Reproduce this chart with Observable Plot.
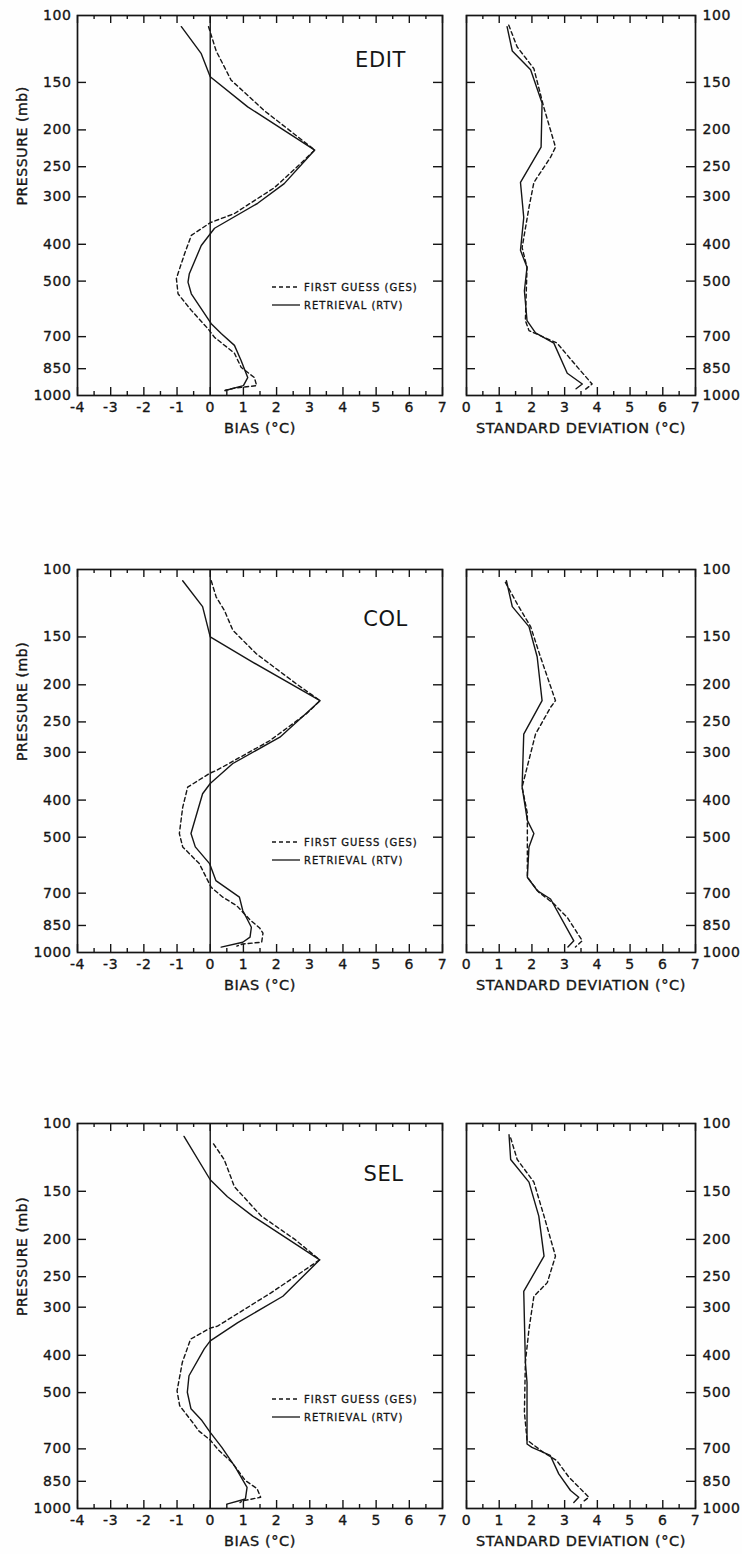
<!DOCTYPE html>
<html>
<head>
<meta charset="utf-8">
<script src="https://cdn.jsdelivr.net/npm/d3@7"></script>
<script src="https://cdn.jsdelivr.net/npm/@observablehq/plot@0.6"></script>
<style>
  html, body { margin: 0; padding: 0; background: #fefefe; }
  #fig { position: relative; width: 742px; height: 1554px; overflow: hidden; font-family: "DejaVu Sans", sans-serif; }
  #fig svg { position: absolute; }
  #fig svg text { letter-spacing: 0.6px; }
</style>
</head>
<body>
<div id="fig"></div>
<script>
// Pressure levels (mb) labelled on the axes; inner levels also get frame ticks
const pressureLabels = [100, 150, 200, 250, 300, 400, 500, 700, 850, 1000];
const pressureTicks = [150, 200, 250, 300, 400, 500, 700, 850];
const biasTicks = [-4, -3, -2, -1, 0, 1, 2, 3, 4, 5, 6, 7];
const sdTicks = [0, 1, 2, 3, 4, 5, 6, 7];

// Profiles as [pressure (mb), value (°C)] — GES = first guess, RTV = retrieval
const editBiasGES = [[107,-0.05],[124,0.18],[148,0.63],[178,1.63],[226,3.15],[245,2.73],[284,1.93],[332,0.73],[351,0],[379,-0.57],[423,-0.77],[492,-1.02],[540,-0.97],[597,-0.57],[667,-0.07],[703,0.13],[774,0.73],[843,0.93],[897,1.33],[942,1.4],[956,0.73],[970,0.45]];
const editBiasRTV = [[107,-0.87],[126,-0.27],[145,0],[174,1.13],[226,3.15],[277,2.23],[312,1.43],[363,0.13],[403,-0.27],[478,-0.63],[503,-0.67],[540,-0.57],[647,0.03],[687,0.33],[738,0.73],[809,0.93],[897,1.13],[942,1.0],[970,0.45]];
const editSdGES = [[106,1.29],[121,1.55],[138,2.06],[174,2.36],[222,2.72],[236,2.57],[275,2.06],[320,1.91],[408,1.70],[460,1.85],[635,1.80],[675,1.91],[728,2.77],[842,3.39],[933,3.84],[970,3.59]];
const editSdRTV = [[107,1.24],[124,1.40],[139,1.96],[170,2.31],[222,2.28],[275,1.65],[340,1.75],[415,1.65],[460,1.85],[530,1.77],[635,1.85],[684,2.11],[728,2.67],[874,3.08],[933,3.54],[960,3.35]];

const colBiasGES = [[107,0.03],[118,0.18],[128,0.43],[144,0.68],[166,1.39],[199,2.6],[220,3.31],[238,2.9],[280,1.79],[335,0.18],[340,0],[370,-0.68],[418,-0.83],[489,-0.93],[530,-0.83],[586,-0.33],[676,0.03],[717,0.38],[755,0.8],[822,1.2],[863,1.49],[890,1.59],[940,1.55],[950,0.98],[962,0.8]];
const colBiasRTV = [[107,-0.83],[125,-0.23],[150,0],[173,1.2],[220,3.31],[274,2.1],[321,0.68],[362,0],[385,-0.23],[489,-0.58],[530,-0.45],[586,-0.02],[649,0.17],[717,0.88],[777,0.98],[859,1.24],[912,1.2],[940,0.98],[968,0.33]];
const colSdGES = [[108,1.19],[123,1.55],[141,1.96],[169,2.26],[220,2.72],[229,2.57],[269,2.11],[342,1.80],[370,1.70],[433,1.86],[489,1.86],[636,1.86],[696,2.21],[746,2.67],[810,3.08],[932,3.54],[968,3.33]];
const colSdRTV = [[107,1.22],[125,1.40],[141,1.91],[169,2.16],[220,2.31],[269,1.75],[370,1.70],[452,1.86],[489,2.06],[530,1.91],[636,1.86],[689,2.16],[725,2.57],[932,3.28],[968,3.1]];

const selBiasGES = [[113,0.1],[124,0.42],[146,0.73],[174,1.54],[200,2.55],[226,3.3],[275,1.84],[336,0.22],[340,0],[363,-0.59],[417,-0.84],[495,-1.0],[541,-0.92],[596,-0.54],[628,-0.35],[664,0],[705,0.25],[760,0.66],[846,1.06],[888,1.41],[935,1.52],[956,0.96],[965,0.9]];
const selBiasRTV = [[108,-0.79],[140,0],[155,0.52],[174,1.28],[226,3.3],[281,2.19],[329,0.83],[367,0],[385,-0.18],[452,-0.64],[499,-0.69],[551,-0.58],[591,-0.25],[634,0],[694,0.35],[782,0.76],[881,1.11],[945,1.06],[974,0.5]];
const selSdGES = [[109,1.35],[124,1.55],[142,2.06],[174,2.37],[221,2.72],[259,2.47],[281,2.06],[342,1.91],[417,1.8],[562,1.77],[664,1.85],[715,2.35],[751,2.76],[827,3.12],[935,3.74],[965,3.53]];
const selSdRTV = [[107,1.30],[124,1.35],[142,1.91],[174,2.21],[221,2.37],[273,1.75],[417,1.80],[470,1.85],[680,1.85],[694,2.0],[728,2.56],[813,2.82],[898,3.18],[935,3.43],[965,3.28]];

const legendLabels = ["FIRST GUESS (GES)", "RETRIEVAL (RTV)"];

const ink = "#151515";
const dashes = "4,3";
const fig = document.getElementById("fig");

// Frame layout of each row of panels
const rows = [
  {name: "EDIT", top: 15,   h: 380, tdx: 303, tdy: 37, ldy: 272, bias: [editBiasGES, editBiasRTV], sd: [editSdGES, editSdRTV]},
  {name: "COL",  top: 569,  h: 383, tdx: 308, tdy: 42, ldy: 273, bias: [colBiasGES, colBiasRTV],   sd: [colSdGES, colSdRTV]},
  {name: "SEL",  top: 1123, h: 385, tdx: 306, tdy: 43, ldy: 276, bias: [selBiasGES, selBiasRTV],   sd: [selSdGES, selSdRTV]}
];

const mTop = 15, mBottom = 55;
const label = {fill: ink, stroke: ink, strokeWidth: 0.35};

function halfSteps(ticks) {
  return ticks.slice(0, -1).map(t => t + 0.5);
}

// Frame, inward ticks on all four sides, and tick labels
function frameMarks(frameH, frameW, xTicks) {
  const minor = halfSteps(xTicks);
  const tick = {stroke: ink, strokeWidth: 1.4};
  return [
    Plot.ruleX(xTicks, {x: d => d, insetBottom: frameH - 8, ...tick}),
    Plot.ruleX(minor,  {x: d => d, insetBottom: frameH - 4, ...tick}),
    Plot.ruleX(xTicks, {x: d => d, insetTop: frameH - 8, ...tick}),
    Plot.ruleX(minor,  {x: d => d, insetTop: frameH - 4, ...tick}),
    Plot.ruleY(pressureTicks, {y: d => d, insetRight: frameW - 9, ...tick}),
    Plot.ruleY(pressureTicks, {y: d => d, insetLeft: frameW - 9, ...tick}),
    Plot.frame({stroke: ink, strokeWidth: 1.7}),
    Plot.text(xTicks, {x: d => d, text: d => String(d), frameAnchor: "bottom", dy: 16, fontSize: 14, ...label})
  ];
}

function profileMarks([ges, rtv]) {
  return [
    Plot.line(ges, {x: d => d[1], y: d => d[0], stroke: ink, strokeWidth: 1.4, strokeDasharray: dashes}),
    Plot.line(rtv, {x: d => d[1], y: d => d[0], stroke: ink, strokeWidth: 1.4})
  ];
}

function place(svg, left, top) {
  svg.style.left = left + "px";
  svg.style.top = top + "px";
  fig.appendChild(svg);
}

for (const row of rows) {
  // Bias panel
  const bW = 456, bML = 77, bMR = 14;
  const bias = Plot.plot({
    width: bW, height: mTop + row.h + mBottom,
    marginLeft: bML, marginRight: bMR, marginTop: mTop, marginBottom: mBottom,
    style: {fontFamily: "DejaVu Sans, sans-serif", background: "transparent", color: ink, overflow: "visible"},
    x: {domain: [-4, 7], axis: null},
    y: {type: "log", domain: [1000, 100], axis: null},
    marks: [
      Plot.ruleX([0], {stroke: ink, strokeWidth: 1.4}),
      ...frameMarks(row.h, bW - bML - bMR, biasTicks),
      Plot.text(pressureLabels, {y: d => d, text: d => String(d), frameAnchor: "left", dx: -6, textAnchor: "end", fontSize: 14, ...label}),
      Plot.text(["PRESSURE (mb)"], {text: d => d, frameAnchor: "left", dx: -55, rotate: -90, fontSize: 14, ...label}),
      Plot.text(["BIAS (°C)"], {text: d => d, frameAnchor: "bottom", dy: 37, fontSize: 14.5, ...label}),
      Plot.text([row.name], {text: d => d, frameAnchor: "top-left", dx: row.tdx, dy: row.tdy, textAnchor: "middle", fontSize: 21, fill: ink}),
      ...profileMarks(row.bias)
    ]
  });
  // Legend for the two profile styles
  const g = d3.select(bias).append("g")
    .attr("transform", `translate(${bML},${mTop})`)
    .attr("text-anchor", "start");
  legendLabels.forEach((text, i) => {
    const y = row.ldy + i * 18;
    g.append("line")
      .attr("x1", 195).attr("x2", 223).attr("y1", y).attr("y2", y)
      .attr("stroke", ink).attr("stroke-width", 1.3)
      .attr("stroke-dasharray", i === 0 ? dashes : null);
    g.append("text")
      .attr("x", 227).attr("y", y).attr("dy", "0.36em")
      .attr("font-size", 10).attr("fill", ink)
      .attr("stroke", ink).attr("stroke-width", 0.3)
      .attr("text-anchor", "start")
      .style("letter-spacing", "1px")
      .text(text);
  });
  place(bias, 0, row.top - mTop);

  // Standard deviation panel
  const sW = 286, sML = 10, sMR = 47;
  const sd = Plot.plot({
    width: sW, height: mTop + row.h + mBottom,
    marginLeft: sML, marginRight: sMR, marginTop: mTop, marginBottom: mBottom,
    style: {fontFamily: "DejaVu Sans, sans-serif", background: "transparent", color: ink, overflow: "visible"},
    x: {domain: [0, 7], axis: null},
    y: {type: "log", domain: [1000, 100], axis: null},
    marks: [
      ...frameMarks(row.h, sW - sML - sMR, sdTicks),
      Plot.text(pressureLabels, {y: d => d, text: d => String(d), frameAnchor: "right", dx: 7, textAnchor: "start", fontSize: 14, ...label}),
      Plot.text(["STANDARD DEVIATION (°C)"], {text: d => d, frameAnchor: "bottom", dy: 37, fontSize: 14.5, ...label}),
      ...profileMarks(row.sd)
    ]
  });
  place(sd, 456, row.top - mTop);
}
</script>
</body>
</html>
